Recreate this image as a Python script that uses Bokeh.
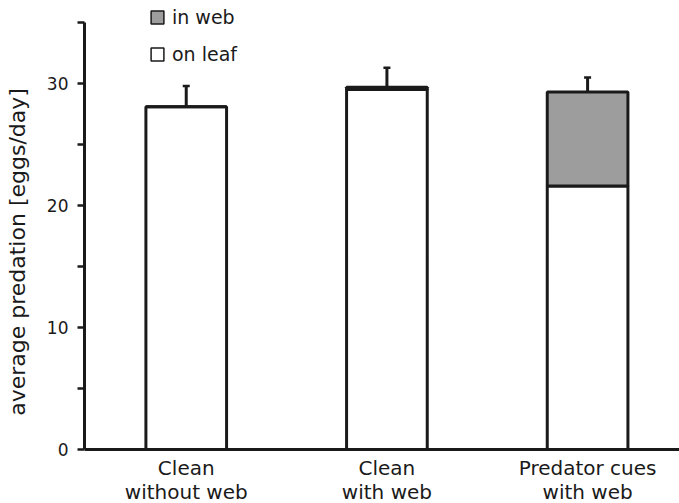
from bokeh.plotting import figure
from bokeh.models import (Range1d, FixedTicker, Whisker, TeeHead, ColumnDataSource,
                          Legend, LegendItem, Span)
from bokeh.core.properties import value
from bokeh.embed import file_html
from bokeh.resources import INLINE

categories = ["Clean\nwithout web", "Clean\nwith web", "Predator cues\nwith web"]
on_leaf = [28.1, 29.5, 21.6]
in_web = [0.0, 0.2, 7.7]
sem = [1.7, 1.6, 1.2]
y_major = [0, 10, 20, 30]
y_minor = [5, 15, 25, 35]

xs = list(range(len(categories)))
totals = [a + b for a, b in zip(on_leaf, in_web)]
uppers = [t + e for t, e in zip(totals, sem)]

src = ColumnDataSource(dict(x=xs, zero=[0] * len(xs), leaf=on_leaf, web=in_web,
                            total=totals, upper=uppers))

FONT = "DejaVu Sans"
INK = "#1a1a1a"
GRAY = "#9c9d9c"

W, H = 679, 503
LEFT = 84
AXIS_TOP_PX = 22       # pixel row where the y axis ends (value Y_TOP)
ZERO_PX = 449          # pixel row of the baseline
Y_TOP = 35
px_per_unit = (ZERO_PX - AXIS_TOP_PX) / Y_TOP
y_start = -(H - ZERO_PX) / px_per_unit
y_end = ZERO_PX / px_per_unit

p = figure(width=W, height=H, output_backend="svg", toolbar_location=None,
           x_range=Range1d(-0.507, 2.458), y_range=Range1d(y_start, y_end),
           min_border_left=LEFT, min_border_right=0, min_border_top=0, min_border_bottom=0)
p.outline_line_color = None
p.xgrid.visible = False
p.ygrid.visible = False
p.xaxis.visible = False
p.background_fill_color = "white"
p.border_fill_color = "white"

r_leaf = p.vbar(x="x", width=0.402, bottom="zero", top="leaf", source=src,
                fill_color="white", line_color=INK, line_width=3)
r_web = p.vbar(x="x", width=0.402, bottom="leaf", top="total", source=src,
               fill_color=GRAY, line_color=INK, line_width=3)

w = Whisker(base="x", lower="total", upper="upper", source=src,
            line_color=INK, line_width=3,
            upper_head=TeeHead(size=7, line_color=INK, line_width=2.5),
            lower_head=None)
p.add_layout(w)

# legend swatches: zero-height proxies sitting on the baseline (hidden by it)
leg_web = p.vbar(x="x", width=0.3, bottom="zero", top="zero", source=src,
                 fill_color=GRAY, line_color=INK, line_width=1.5)
leg_leaf = p.vbar(x="x", width=0.3, bottom="zero", top="zero", source=src,
                  fill_color="white", line_color=INK, line_width=1.5)

# baseline (x axis line)
p.add_layout(Span(location=0, dimension="width", line_color=INK, line_width=3))

# category labels below the baseline
line1 = [c.split("\n")[0] for c in categories]
line2 = [c.split("\n")[1] for c in categories]
lab_src = ColumnDataSource(dict(x=xs, y=[0] * len(xs), l1=line1, l2=line2))
for col, off in (("l1", 18), ("l2", 42)):
    p.text(x="x", y="y", text=col, source=lab_src, y_offset=off,
           text_align="center", text_baseline="alphabetic",
           text_font=value(FONT), text_font_size="20px", text_color=INK)

# y axis
ya = p.yaxis[0]
ya.bounds = (0, Y_TOP)
ya.ticker = FixedTicker(ticks=y_major, minor_ticks=y_minor)
ya.axis_label = "average predation [eggs/day]"
ya.axis_label_text_font = FONT
ya.axis_label_text_font_size = "22px"
ya.axis_label_text_font_style = "normal"
ya.axis_label_text_color = INK
ya.axis_label_standoff = 14
ya.major_label_text_font = FONT
ya.major_label_text_font_size = "17px"
ya.major_label_text_color = INK
ya.major_label_standoff = 9
ya.axis_line_color = INK
ya.axis_line_width = 3
ya.major_tick_line_color = INK
ya.major_tick_line_width = 2.5
ya.major_tick_out = 7
ya.major_tick_in = 0
ya.minor_tick_line_color = INK
ya.minor_tick_line_width = 2.5
ya.minor_tick_out = 7
ya.minor_tick_in = 0

legend = Legend(items=[LegendItem(label="in web", renderers=[leg_web]),
                       LegendItem(label="on leaf", renderers=[leg_leaf])],
                location=(65, 438), orientation="vertical",
                glyph_width=16, glyph_height=16, label_height=22, spacing=15,
                padding=0, margin=0, label_standoff=7,
                border_line_color=None, background_fill_alpha=0,
                label_text_font=FONT, label_text_font_size="19px", label_text_color=INK)
p.add_layout(legend, "center")

open("out.html", "w").write(file_html(p, INLINE))
